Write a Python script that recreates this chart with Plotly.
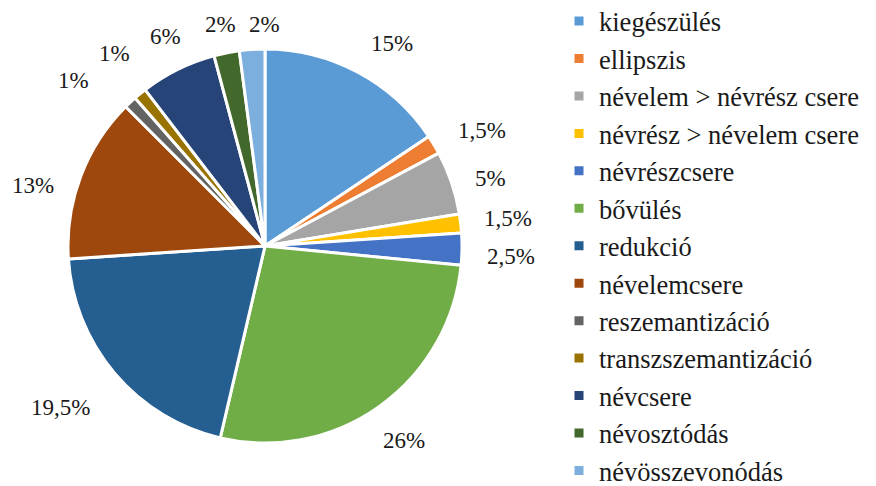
import math
import plotly.graph_objects as go

categories = ["kiegészülés", "ellipszis", "névelem > névrész csere", "névrész > névelem csere",
              "névrészcsere", "bővülés", "redukció", "névelemcsere", "reszemantizáció",
              "transzszemantizáció", "névcsere", "névosztódás", "névösszevonódás"]
values = [15, 1.5, 5, 1.5, 2.5, 26, 19.5, 13, 1, 1, 6, 2, 2]
value_labels = ["15%", "1,5%", "5%", "1,5%", "2,5%", "26%", "19,5%", "13%", "1%", "1%", "6%", "2%", "2%"]
colors = ["#5B9BD5", "#ED7D31", "#A5A5A5", "#FFC000", "#4472C4", "#70AD47", "#255E91",
          "#9E480E", "#636363", "#997300", "#264478", "#43682B", "#7CAFDD"]

FONT = "Times New Roman, Liberation Serif, serif"
W, H = 876, 486
cx, cy, r = 257, 238, 197   # pie placement in px (page has an 8px body margin)
lab_size = 23

fig = go.Figure(go.Pie(
    labels=categories, values=values, text=value_labels,
    textinfo="none",
    sort=False, direction="clockwise", rotation=0,
    marker=dict(colors=colors, line=dict(color="white", width=3)),
    hoverinfo="label+text",
    domain=dict(x=[(cx - r) / W, (cx + r) / W], y=[(H - cy - r) / H, (H - cy + r) / H]),
))

# outside labels placed at each slice's mid-angle (computed from the data)
# per-label (angle, radius) spreading tweaks for the crowded labels
nudge = {0: (4, 0), 1: (3, 0), 2: (2, 0), 4: (1.5, 3), 6: (2, 12), 7: (-6, 0),
         8: (-6, 16), 9: (1.5, 8), 10: (1, -3), 11: (0, -7), 12: (3.5, -9)}
total = sum(values)
acc = 0
for i, (v, t) in enumerate(zip(values, value_labels)):
    da, dr = nudge.get(i, (0, 0))
    mid = (acc + v / 2) / total * 360 + da
    acc += v
    th = math.radians(mid)
    w = len(t) * 10.5 + 6
    h = lab_size
    off = 22 + dr + (w / 2) * abs(math.sin(th)) + (h / 2) * abs(math.cos(th))
    R = r + off
    x = cx + R * math.sin(th)
    y = cy - R * math.cos(th)
    fig.add_annotation(x=x / W, y=1 - y / H, xref="paper", yref="paper", text=t,
                       showarrow=False, xanchor="center", yanchor="middle",
                       font=dict(family=FONT, size=lab_size, color="#1a1a1a"))

fig.update_layout(
    width=W, height=H,
    margin=dict(l=0, r=0, t=0, b=0, autoexpand=False),
    paper_bgcolor="white",
    showlegend=True,
    legend=dict(x=0.629, y=1.022, xanchor="left", yanchor="top",
                font=dict(family=FONT, size=26.5, color="#1a1a1a"),
                itemwidth=30, tracegroupgap=0, traceorder="normal",
                maxheight=800),
)

fig.write_html("out.html")
